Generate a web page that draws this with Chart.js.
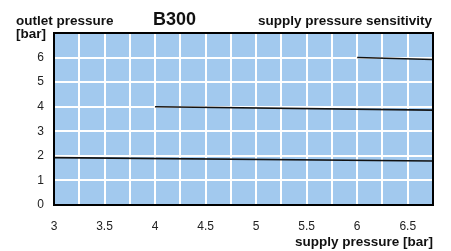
<!DOCTYPE html>
<html>
<head>
<meta charset="utf-8">
<script src="https://cdn.jsdelivr.net/npm/chart.js@4"></script>
<style>
body { margin:0; background:#fff; }
#wrap { position:relative; width:451px; height:251px; }
.lbl { position:absolute; font:bold 13.5px 'Liberation Sans', Arial, sans-serif; line-height:1; color:#111; white-space:nowrap; }
</style>
</head>
<body>
<div id="wrap">
  <canvas id="chart"></canvas>
  <div class="lbl" style="left:16px;top:14px;">outlet pressure</div>
  <div class="lbl" style="left:16px;top:27px;">[bar]</div>
  <div class="lbl" style="left:153px;top:10px;font-size:18px;">B300</div>
  <div class="lbl" style="right:19px;top:14px;">supply pressure sensitivity</div>
  <div class="lbl" style="right:18px;top:235px;">supply pressure [bar]</div>
</div>
<script>
// Data
const curve1X = [3, 6.75];
const curve1Y = [1.93, 1.79];
const curve2X = [4, 6.75];
const curve2Y = [4.0, 3.86];
const curve3X = [6, 6.75];
const curve3Y = [6.0, 5.92];

// Axes
const xMin = 3, xMax = 6.75, xStep = 0.25;
const yMin = 0, yMax = 7, yStep = 1;

const toPoints = (xs, ys) => xs.map((x, i) => ({x: x, y: ys[i]}));

// plot background + frame
const frame = {
    id: 'frame',
    beforeDraw(chart) {
        const a = chart.chartArea, c = chart.ctx;
        c.save();
        c.fillStyle = '#a2c9ee';
        c.fillRect(a.left, a.top, a.right - a.left, a.bottom - a.top);
        c.restore();
    },
    afterDraw(chart) {
        const a = chart.chartArea, c = chart.ctx;
        c.save();
        c.strokeStyle = '#000';
        c.lineWidth = 2;
        c.strokeRect(a.left, a.top, a.right - a.left, a.bottom - a.top);
        c.restore();
    }
};

const lineStyle = {showLine:true, pointRadius:0, borderColor:'#111', borderWidth:1.6, fill:false};

new Chart(document.getElementById('chart').getContext('2d'), {
    type: 'scatter',
    data: {
        datasets: [
            Object.assign({data: toPoints(curve1X, curve1Y)}, lineStyle),
            Object.assign({data: toPoints(curve2X, curve2Y)}, lineStyle),
            Object.assign({data: toPoints(curve3X, curve3Y)}, lineStyle)
        ]
    },
    options: {
        responsive: true,
        maintainAspectRatio: false,
        animation: false,
        layout: {padding: {top:33, right:18, left:0, bottom:0}},
        plugins: {legend:{display:false}, tooltip:{enabled:false}},
        scales: {
            x: {
                type: 'linear', min: xMin, max: xMax,
                afterFit: s => { s.height = 46; },
                grid: {color:'#fff', lineWidth:2, drawTicks:false},
                border: {display:false},
                ticks: {
                    stepSize: xStep, autoSkip:false, maxRotation:0, padding:14,
                    color:'#222', font:{family:'Liberation Sans', size:12},
                    callback: v => (Math.abs(v * 2 - Math.round(v * 2)) < 1e-6 && v < 6.75) ? String(v) : ''
                }
            },
            y: {
                min: yMin, max: yMax,
                afterFit: s => { s.width = 54; },
                grid: {color:'#fff', lineWidth:2, drawTicks:false},
                border: {display:false},
                ticks: {
                    stepSize: yStep, padding:10,
                    color:'#222', font:{family:'Liberation Sans', size:12},
                    callback: v => v < yMax ? String(v) : ''
                }
            }
        }
    },
    plugins: [frame]
});
</script>
</body>
</html>
